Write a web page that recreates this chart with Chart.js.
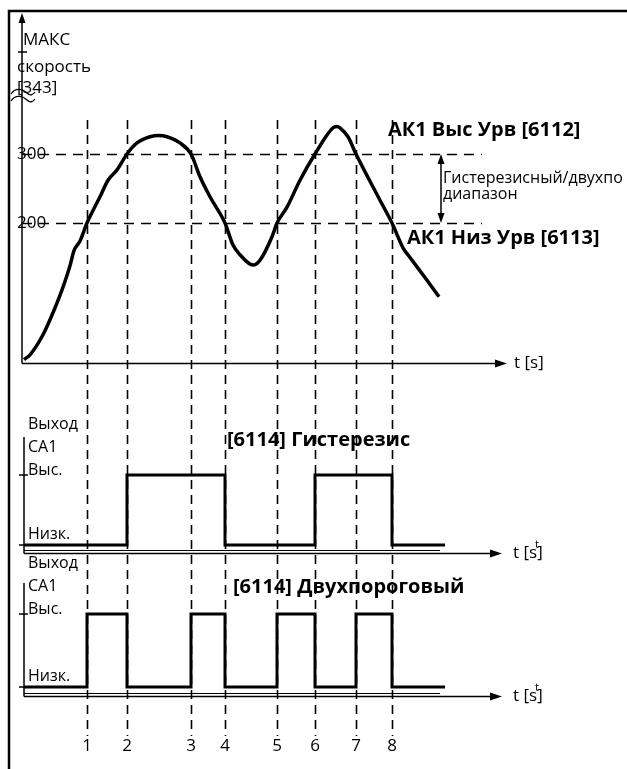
<!DOCTYPE html>
<html lang="ru">
<head>
<meta charset="UTF-8">
<title>Компаратор CA1 - гистерезис / двухпороговый</title>
<script src="https://cdn.jsdelivr.net/npm/chart.js"></script>
<style>
    html, body { margin: 0; padding: 0; background: #fff; }
    #wrap { width: 627px; height: 769px; }
</style>
</head>
<body>
<div id="wrap"><canvas id="diagram" width="627" height="769"></canvas></div>
<script>
// ---- данные ----
const eventTimes  = [6.5, 10.5, 16.9, 20.3, 25.5, 29.3, 33.4, 37.0];
const eventLabels = ['1', '2', '3', '4', '5', '6', '7', '8'];

const speedTimes  = [0.2, 0.8, 2.1, 3.1, 4.0, 4.8, 5.2, 5.8, 6.5, 7.8, 8.6, 9.5, 10.5, 11.5, 12.8, 13.7, 14.5,
                     15.8, 16.9, 17.8, 18.8, 20.3, 21.1, 21.8, 23.1, 23.8, 25.0, 25.5, 26.5, 27.8, 29.3,
                     31.1, 31.5, 31.8, 32.6, 33.4, 35.8, 37.0, 38.1, 38.8, 40.5, 41.7];
const speedValues = [2, 9, 38, 70, 103, 138, 160, 174, 200, 238, 262, 277, 300, 316, 325, 327, 325,
                     316, 300, 267, 238, 200, 168, 154, 139, 146, 180, 200, 223, 262, 300,
                     338, 340, 338, 325, 300, 233, 200, 164, 150, 117, 93];

const levelHigh = 300;   // АК1 Выс Урв
const levelLow  = 200;   // АК1 Низ Урв

const hystTimes  = [0.2, 10.5, 20.3, 29.3, 37.0, 42.3];
const hystStates = [0, 1, 0, 1, 0, 0];

const windowTimes  = [0.2, 6.5, 10.5, 16.9, 20.3, 25.5, 29.3, 33.4, 37.0, 42.3];
const windowStates = [0, 1, 0, 1, 0, 1, 0, 1, 0, 0];

const toPoints = (xs, ys) => xs.map((x, i) => ({ x: x, y: ys[i] }));

const FONT = '"Open Sans", "Liberation Sans", sans-serif';

function arrow(ctx, x, y, dir, len, half) {
    ctx.beginPath();
    if (dir === 'right') {
        ctx.moveTo(x, y); ctx.lineTo(x - len, y - half); ctx.lineTo(x - len, y + half);
    } else if (dir === 'up') {
        ctx.moveTo(x, y); ctx.lineTo(x - half, y + len); ctx.lineTo(x + half, y + len);
    } else {
        ctx.moveTo(x, y); ctx.lineTo(x - half, y - len); ctx.lineTo(x + half, y - len);
    }
    ctx.closePath();
    ctx.fill();
}

function line(ctx, x1, y1, x2, y2) {
    ctx.beginPath(); ctx.moveTo(x1, y1); ctx.lineTo(x2, y2); ctx.stroke();
}

function text(ctx, str, x, y, size, bold, align, maxW) {
    ctx.font = (bold ? 'bold ' : '') + size + 'px ' + FONT;
    ctx.textAlign = align || 'left';
    ctx.textBaseline = 'middle';
    if (maxW) ctx.fillText(str, x, y, maxW); else ctx.fillText(str, x, y);
}

// сетка из пунктиров под кривыми
const guidesPlugin = {
    id: 'guides',
    beforeDatasetsDraw(chart) {
        const ctx = chart.ctx;
        const xs = chart.scales.x, ys = chart.scales.ySpeed;
        ctx.save();
        ctx.strokeStyle = '#000';
        ctx.lineWidth = 1.6;
        ctx.setLineDash([9, 6]);
        eventTimes.forEach(t => {
            const px = Math.round(xs.getPixelForValue(t)) + 0.5;
            line(ctx, px, 120, px, 736);
        });
        ctx.setLineDash([10, 7]);
        [levelHigh, levelLow].forEach(v => {
            const py = Math.round(ys.getPixelForValue(v)) + 0.5;
            line(ctx, xs.getPixelForValue(0), py, 482, py);
        });
        ctx.restore();
    }
};

// оси, рамка и подписи поверх
const decorPlugin = {
    id: 'decor',
    afterDatasetsDraw(chart) {
        const ctx = chart.ctx;
        const xs = chart.scales.x;
        const ys = chart.scales.ySpeed, yh = chart.scales.yHyst, yw = chart.scales.yWin;
        ctx.save();
        ctx.strokeStyle = '#000';
        ctx.fillStyle = '#000';

        // рамка
        ctx.lineWidth = 2.5;
        ctx.beginPath(); ctx.moveTo(9, 769); ctx.lineTo(9, 11); ctx.lineTo(627, 11); ctx.stroke();

        // ось скорости
        const x0 = xs.getPixelForValue(0);
        const yAxis = Math.round(ys.getPixelForValue(-3)) + 0.5;
        ctx.lineWidth = 1.5;
        line(ctx, x0, yAxis, x0, 20);
        arrow(ctx, x0, 13, 'up', 10, 3.5);
        line(ctx, x0, yAxis, 496, yAxis);
        arrow(ctx, 507, yAxis, 'right', 12, 4);
        line(ctx, 18, 52, 27, 52);
        // знак разрыва шкалы
        ctx.lineWidth = 1.3;
        [91, 98].forEach(y => {
            ctx.beginPath();
            ctx.moveTo(11, y + 3);
            ctx.bezierCurveTo(16, y - 5, 24, y - 1, 27, y + 2);
            ctx.bezierCurveTo(30, y + 5, 33, y + 4, 35, y + 1);
            ctx.stroke();
        });

        text(ctx, 'МАКС', 23, 40, 17);
        text(ctx, 'скорость', 17, 67, 17);
        text(ctx, '[343]', 17, 88, 17);
        text(ctx, '300', 17, ys.getPixelForValue(levelHigh), 17);
        text(ctx, '200', 17, ys.getPixelForValue(levelLow), 17);
        text(ctx, 't [s]', 514, yAxis, 17);

        text(ctx, 'АК1 Выс Урв [6112]', 388, 130, 20, true, 'left', 197);
        text(ctx, 'АК1 Низ Урв [6113]', 407, 238, 20, true, 'left', 194);

        // диапазон между уровнями
        const yHi = ys.getPixelForValue(levelHigh), yLo = ys.getPixelForValue(levelLow);
        ctx.lineWidth = 1.5;
        line(ctx, 441, yHi + 8, 441, yLo - 8);
        arrow(ctx, 441, yHi, 'up', 10, 3.5);
        arrow(ctx, 441, yLo, 'down', 10, 3.5);
        text(ctx, 'Гистерезисный/двухпо', 443, 178, 16);
        text(ctx, 'диапазон', 443, 194, 16);

        // оси импульсных диаграмм
        const pulseAxes = [
            { s: yh, top: 437, title: '[6114] Гистерезис', tx: 227, ty: 440, tw: 184 },
            { s: yw, top: 583, title: '[6114] Двухпороговый', tx: 233, ty: 587, tw: 237 }
        ];
        pulseAxes.forEach(p => {
            const base = Math.round(p.s.getPixelForValue(-0.12)) + 0.5;
            const hi = p.s.getPixelForValue(1), lo = p.s.getPixelForValue(0);
            const xa = x0 + 2;
            ctx.lineWidth = 1.5;
            line(ctx, xa, p.top, xa, base);
            line(ctx, xa, base, 491, base);
            ctx.lineWidth = 1;
            line(ctx, xa, base - 3, 440, base - 3);
            arrow(ctx, 502, base, 'right', 12, 4);
            ctx.lineWidth = 1.5;
            line(ctx, xa - 5, hi, xa + 4, hi);
            line(ctx, xa - 5, lo, xa + 4, lo);
            text(ctx, 'Выход', 28, hi - 51, 16);
            text(ctx, 'CA1', 28, hi - 28, 16);
            text(ctx, 'Выс.', 28, hi - 5, 16);
            text(ctx, 'Низк.', 28, lo - 11, 16);
            text(ctx, 't [s]', 513, base, 17);
            text(ctx, 't', 535, base - 9, 11);
            text(ctx, p.title, p.tx, p.ty, 20, true, 'left', p.tw);
        });

        // номера моментов переключения
        eventTimes.forEach((t, i) => {
            text(ctx, eventLabels[i], xs.getPixelForValue(t), 746, 17, false, 'center');
        });
        ctx.restore();
    }
};

new Chart(document.getElementById('diagram').getContext('2d'), {
    type: 'line',
    data: {
        datasets: [
            {
                label: 'Скорость',
                data: toPoints(speedTimes, speedValues),
                yAxisID: 'ySpeed',
                borderColor: '#000',
                borderWidth: 3.5,
                pointRadius: 0,
                cubicInterpolationMode: 'monotone',
                fill: false
            },
            {
                label: 'Гистерезис',
                data: toPoints(hystTimes, hystStates),
                yAxisID: 'yHyst',
                borderColor: '#000',
                borderWidth: 3,
                pointRadius: 0,
                stepped: 'before',
                fill: false
            },
            {
                label: 'Двухпороговый',
                data: toPoints(windowTimes, windowStates),
                yAxisID: 'yWin',
                borderColor: '#000',
                borderWidth: 3,
                pointRadius: 0,
                stepped: 'before',
                fill: false
            }
        ]
    },
    options: {
        responsive: false,
        animation: false,
        events: [],
        layout: { padding: { left: 22, right: 0, top: 0, bottom: 0 } },
        plugins: { legend: { display: false }, tooltip: { enabled: false } },
        scales: {
            x: { type: 'linear', display: false, min: 0, max: 60.5 },
            // три наложенные шкалы, каждая на всю высоту полотна
            ySpeed: { type: 'linear', display: false, min: -591.3, max: 523.2 },
            yHyst:  { type: 'linear', display: false, min: -3.2, max: 7.786 },
            yWin:   { type: 'linear', display: false, min: -1.123, max: 9.411 }
        }
    },
    plugins: [guidesPlugin, decorPlugin]
});
</script>
</body>
</html>
